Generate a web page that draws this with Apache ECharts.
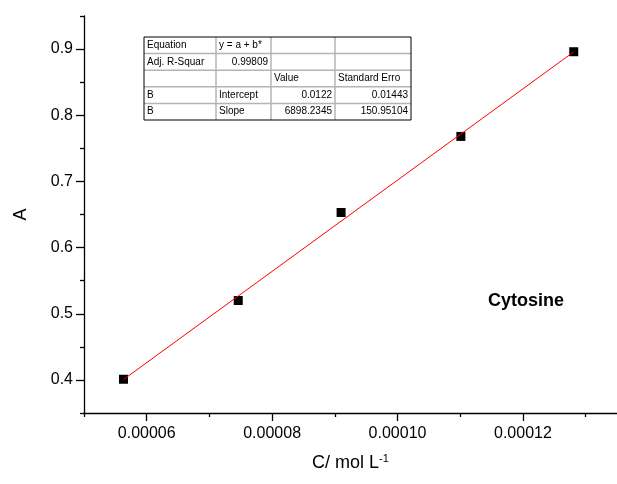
<!DOCTYPE html>
<html>
<head>
<meta charset="utf-8">
<script src="https://cdn.jsdelivr.net/npm/echarts@6/dist/echarts.min.js"></script>
<style>
    html, body { margin: 0; padding: 0; background: #fff; }
    #chart-fit { width: 617px; height: 484px; }
</style>
</head>
<body>
<div id="chart-fit"></div>
<script>
// 数据点
var concX = [0.0000563, 0.0000746, 0.0000910, 0.0001101, 0.0001281];
var absY = [0.401, 0.520, 0.653, 0.768, 0.896];
// 拟合直线两端
var fitX = [0.0000563, 0.0001281];
var fitY = [0.4006, 0.8958];
// 刻度
var xMajor = [0.00006, 0.00008, 0.00010, 0.00012];
var xMinor = [0.00005, 0.00007, 0.00009, 0.00011, 0.00013];
var yMajor = [0.4, 0.5, 0.6, 0.7, 0.8, 0.9];
var yMinor = [0.35, 0.45, 0.55, 0.65, 0.75, 0.85, 0.95];
// 拟合结果表
var tableRows = [
    ['Equation', 'y = a + b*', '', ''],
    ['Adj. R-Squar', '0.99809', '', ''],
    ['', '', 'Value', 'Standard Erro'],
    ['B', 'Intercept', '0.0122', '0.01443'],
    ['B', 'Slope', '6898.2345', '150.95104']
];
var rightCells = { '1_1': 1, '3_2': 1, '3_3': 1, '4_2': 1, '4_3': 1 };

function paintChart() {
    var myChart = echarts.init(document.getElementById('chart-fit'));
    var font = 'Liberation Sans, Arial, sans-serif';

    // 表格
    var colX = [144, 216, 271, 335, 411];
    var top = 37, rowH = 16.6;
    var cells = [];
    for (var i = 1; i < tableRows.length; i++) {
        cells.push({ type: 'line', shape: { x1: colX[0], y1: top + i * rowH, x2: colX[4], y2: top + i * rowH },
            style: { stroke: '#b4b4b4', lineWidth: 1.5 } });
    }
    for (var j = 1; j < 4; j++) {
        cells.push({ type: 'line', shape: { x1: colX[j], y1: top, x2: colX[j], y2: top + 5 * rowH },
            style: { stroke: '#b4b4b4', lineWidth: 1.5 } });
    }
    cells.push({ type: 'rect', shape: { x: colX[0], y: top, width: colX[4] - colX[0], height: 5 * rowH },
        style: { fill: 'none', stroke: '#000', lineWidth: 1 } });
    for (var r = 0; r < tableRows.length; r++) {
        for (var c = 0; c < 4; c++) {
            var t = tableRows[r][c];
            if (!t) continue;
            var right = rightCells[r + '_' + c];
            cells.push({ type: 'text', x: right ? colX[c + 1] - 3 : colX[c] + 3, y: top + r * rowH + rowH / 2,
                style: { text: t, fill: '#000', font: '10px ' + font, textAlign: right ? 'right' : 'left', textVerticalAlign: 'middle' } });
        }
    }

    var option = {
        backgroundColor: '#fff',
        animation: false,
        grid: { left: 84, top: 16, width: 537, height: 397 },
        xAxis: [{
            type: 'value', min: 0.00005, max: 0.000135, position: 'bottom',
            name: '{a|C/ mol L}{s|-1}', nameLocation: 'middle', nameGap: 40,
            nameTextStyle: { rich: {
                a: { fontSize: 18, fontFamily: font, color: '#000' },
                s: { fontSize: 11, fontFamily: font, color: '#000', verticalAlign: 'top', padding: [0, 0, 10, 0] }
            } },
            axisLine: { onZero: false, lineStyle: { color: '#000', width: 1.3 } },
            axisTick: { length: 8, customValues: xMajor, lineStyle: { color: '#000', width: 1.3 } },
            axisLabel: { customValues: xMajor, margin: 13, fontSize: 16, fontFamily: font, color: '#000',
                formatter: function (v) { return v.toFixed(5); } },
            splitLine: { show: false }
        }, {
            type: 'value', min: 0.00005, max: 0.000135, position: 'bottom',
            axisLine: { show: false },
            axisTick: { length: 4, customValues: xMinor, lineStyle: { color: '#000', width: 1.3 } },
            axisLabel: { show: false },
            splitLine: { show: false }
        }],
        yAxis: [{
            type: 'value', min: 0.35, max: 0.95, position: 'left',
            name: 'A', nameLocation: 'middle', nameGap: 54,
            nameTextStyle: { fontSize: 18, fontFamily: font, color: '#000' },
            axisLine: { onZero: false, lineStyle: { color: '#000', width: 1.3 } },
            axisTick: { length: 8, customValues: yMajor, lineStyle: { color: '#000', width: 1.3 } },
            axisLabel: { customValues: yMajor, margin: 11, fontSize: 16, fontFamily: font, color: '#000',
                formatter: function (v) { return v.toFixed(1); } },
            splitLine: { show: false }
        }, {
            type: 'value', min: 0.35, max: 0.95, position: 'left',
            axisLine: { show: false },
            axisTick: { length: 4, customValues: yMinor, lineStyle: { color: '#000', width: 1.3 } },
            axisLabel: { show: false },
            splitLine: { show: false }
        }],
        graphic: [
            { type: 'group', children: cells },
            { type: 'text', left: 488, top: 292,
                style: { text: 'Cytosine', fill: '#000', font: 'bold 18px ' + font } }
        ],
        series: [{
            type: 'scatter',
            data: concX.map(function (x, k) { return [x, absY[k]]; }),
            symbol: 'rect', symbolSize: 9,
            itemStyle: { color: '#000', opacity: 1 },
            z: 2
        }, {
            type: 'line',
            data: fitX.map(function (x, k) { return [x, fitY[k]]; }),
            symbol: 'none',
            lineStyle: { color: '#ff0000', width: 1 },
            z: 3
        }]
    };
    myChart.setOption(option);
}
paintChart();
</script>
</body>
</html>
